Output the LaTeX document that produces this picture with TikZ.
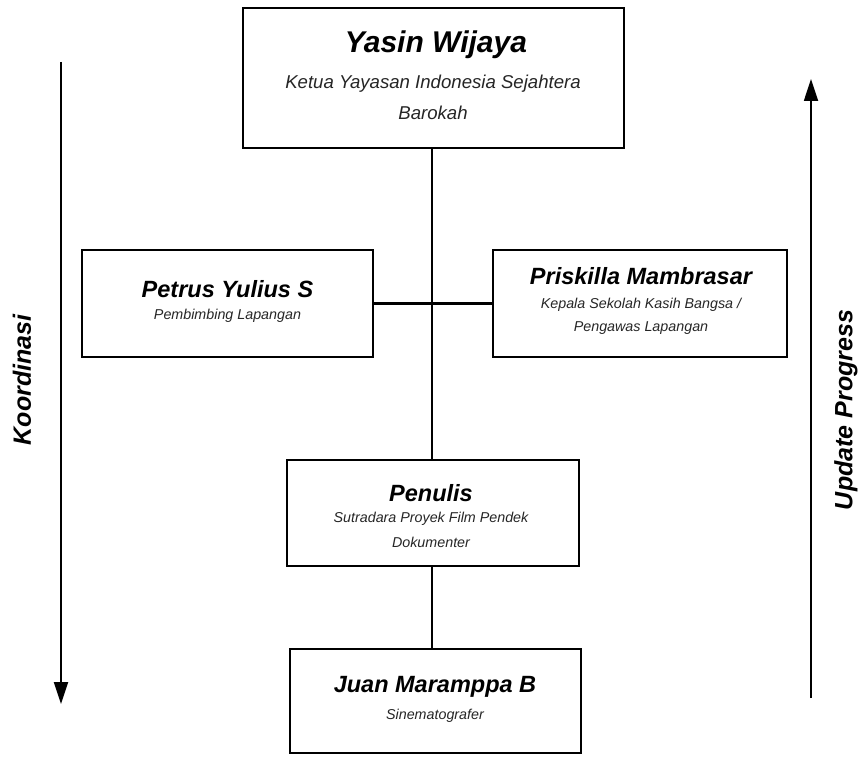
\documentclass[tikz,border=0pt]{standalone}
\usepackage{fontspec}
\setmainfont{Liberation Sans}
\usetikzlibrary{arrows.meta}
\tikzset{
  box/.style={draw=black, line width=2.6pt, fill=white, inner sep=0pt},
  pname/.style={font=\fontsize{23.5}{26}\selectfont\bfseries\itshape, inner sep=0pt},
  role/.style={font=\fontsize{14.3}{17}\selectfont\itshape, text=black!85, inner sep=0pt},
  bigrole/.style={font=\fontsize{18.6}{21}\selectfont\itshape, text=black!85, inner sep=0pt},
  link/.style={line width=2.4pt},
  flow/.style={line width=1.8pt, -{Triangle[width=14pt,length=22pt]}},
  side/.style={font=\fontsize{25}{28}\selectfont\bfseries\itshape, inner sep=0pt},
}
\begin{document}
\begin{tikzpicture}[x=1pt,y=-1pt]
\useasboundingbox (0,0) rectangle (859,757);
% boxes
\node[box, minimum width=381pt, minimum height=140pt] (top) at (433.5,78) {};
\node[box, minimum width=291pt, minimum height=107pt] (left) at (227.5,303.5) {};
\node[box, minimum width=294pt, minimum height=107pt] (right) at (640,303.5) {};
\node[box, minimum width=292pt, minimum height=106pt] (pen) at (433,513) {};
\node[box, minimum width=291pt, minimum height=104pt] (juan) at (435.5,701) {};
% texts
\node[pname, font=\fontsize{30}{33}\selectfont\bfseries\itshape] (t1) at (436,45) {Yasin Wijaya};
\node[bigrole] (t2) at (433,84) {Ketua Yayasan Indonesia Sejahtera};
\node[bigrole] (t3) at (433,113) {Barokah};
\node[pname] (l1) at (227.5,289) {Petrus Yulius S};
\node[role] (l2) at (227.5,316) {Pembimbing Lapangan};
\node[pname] (r1) at (641,276) {Priskilla Mambrasar};
\node[role] (r2) at (641,305) {Kepala Sekolah Kasih Bangsa /};
\node[role] (r3) at (641,328) {Pengawas Lapangan};
\node[pname] (p1) at (431,493) {Penulis};
\node[role] (p2) at (431,519) {Sutradara Proyek Film Pendek};
\node[role] (p3) at (431,542) {Dokumenter};
\node[pname] (j1) at (435,687) {Juan Maramppa B};
\node[role] (j2) at (435,716) {Sinematografer};
% connectors
\coordinate (ts) at (432,148);
\coordinate (ps) at (432,566);
\draw[link] (ts) -- (ts |- pen.north);
\draw[link] (left.east) -- (right.west);
\draw[link] (ps) -- (ps |- juan.north);
% side arrows
\coordinate (a1) at (61,62);
\coordinate (a2) at (61,704);
\draw[flow] (a1) -- (a2);
\coordinate (b1) at (811,698);
\coordinate (b2) at (811,79);
\draw[flow] (b1) -- (b2);
\node[side, rotate=90] (k) at (22,380) {Koordinasi};
\node[side, rotate=90] (u) at (846,410) {Update Progress};
\end{tikzpicture}
\end{document}
